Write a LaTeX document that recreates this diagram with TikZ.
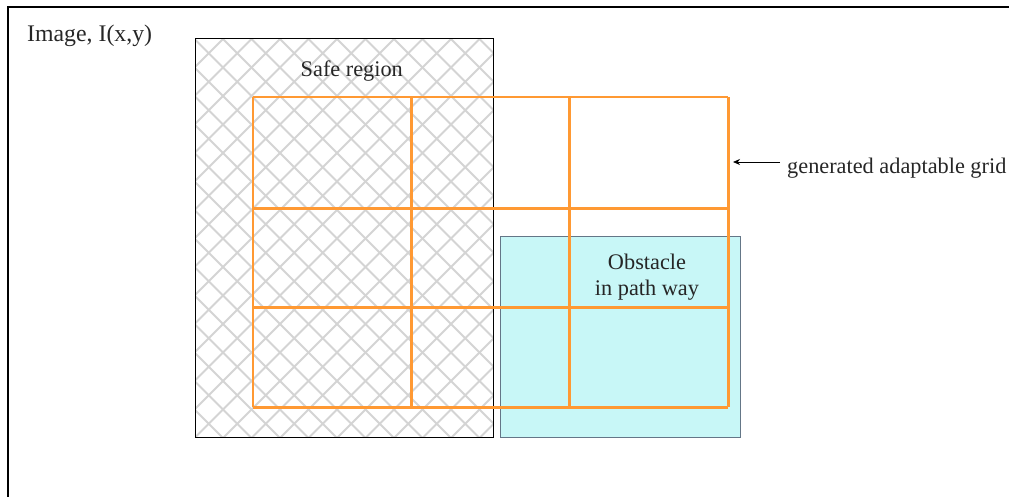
\documentclass[tikz,border=0pt]{standalone}
\usepackage{fontspec}
\setmainfont{Liberation Serif}
\usetikzlibrary{arrows.meta}
\definecolor{gridorange}{HTML}{FF9933}
\definecolor{obstfill}{HTML}{C8F7F7}
\definecolor{obstline}{HTML}{647687}
\definecolor{hatchgray}{HTML}{D4D4D4}
\tikzset{
  lbl/.style={font=\fontsize{22.3}{26}\selectfont, text=black!85, inner sep=0pt},
  biglbl/.style={font=\fontsize{23.8}{28}\selectfont, text=black!85, inner sep=0pt},
  gridline/.style={draw=gridorange, line width=2.8pt},
  hatchline/.style={draw=hatchgray, line width=1.8pt},
}
\begin{document}
\begin{tikzpicture}[x=1pt,y=-1pt]
  \useasboundingbox (0,0) rectangle (1009,497);
  % image frame (open to the right and bottom)
  \draw[line width=1.4pt] (8,497) -- (8,7) -- (1009,7);
  \node[biglbl, anchor=base west] (imglbl) at (27,41.5) {Image, I(x,y)};

  % safe region with cross hatching
  \coordinate (safeNW) at (195.5,38.5);
  \coordinate (safeSE) at (493.5,437.5);
  \begin{scope}
    \clip (safeNW) rectangle (safeSE);
    \foreach \a in {-205,-176.5,...,500} {
      \draw[hatchline] (\a,38.5) -- ++(400,400);
    }
    \foreach \a in {195,223.5,...,900} {
      \draw[hatchline] (\a,38.5) -- ++(-400,400);
    }
  \end{scope}
  \draw[line width=0.9pt] (safeNW) rectangle (safeSE);
  \node[lbl, anchor=base west] (safelbl) at (300.5,76.5) {Safe region};

  % obstacle
  \draw[fill=obstfill, draw=obstline, line width=1pt] (500.8,236.5) rectangle (740.8,437.8);
  \node[lbl, anchor=base] (obst1) at (647,269) {Obstacle};
  \node[lbl, anchor=base] (obst2) at (647,295.5) {in path way};

  % generated grid
  \foreach \x in {253,411.2,569.6,728.2} {
    \draw[gridline] (\x,97) -- (\x,407.2);
  }
  \foreach \y in {97,208.2,307.6,407.2} {
    \draw[gridline] (253,\y) -- (728.2,\y);
  }
  \coordinate (gridE) at (733,162);

  % annotation
  \node[lbl, anchor=base west] (gridlbl) at (787,174) {generated adaptable grid};
  \draw[-{Stealth[length=7pt,width=6pt]}, line width=0.8pt] (780,162) -- (gridE);
\end{tikzpicture}
\end{document}
